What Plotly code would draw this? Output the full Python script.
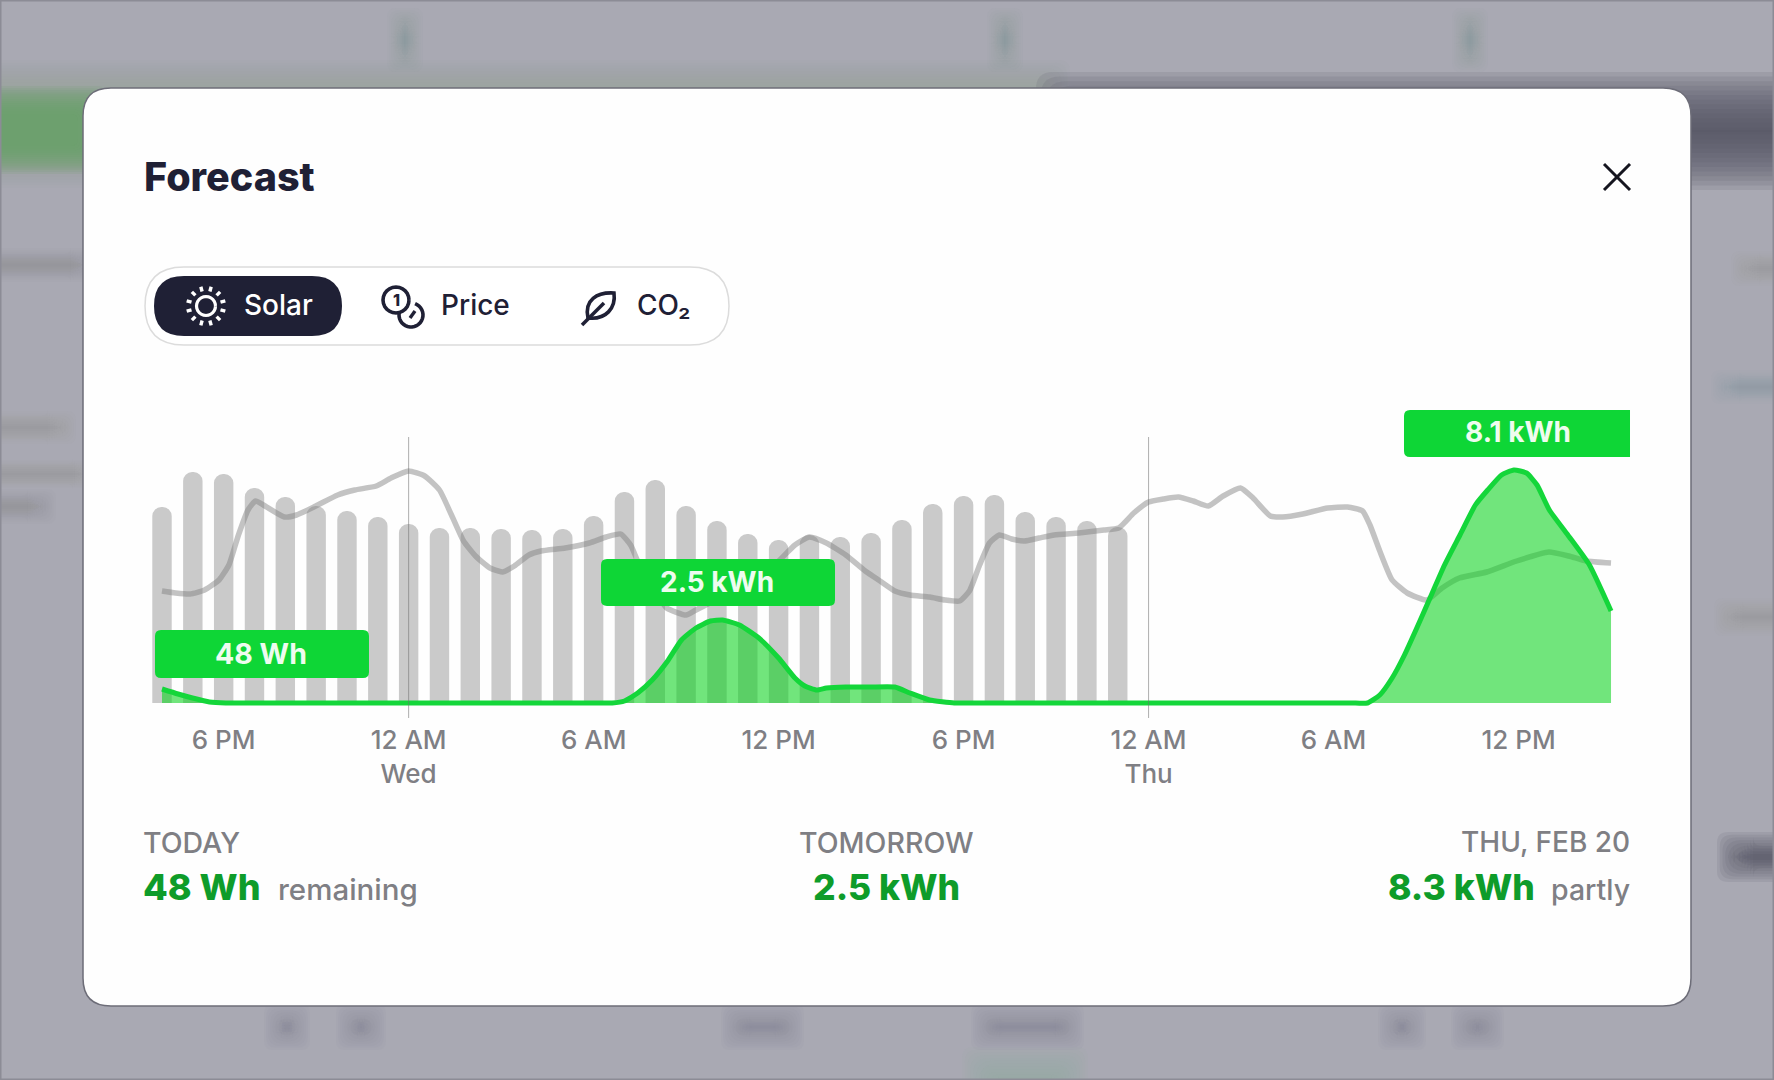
import math
import plotly.graph_objects as go

W = 1774
H = 1080

# hours counted from 4 PM Tuesday, values are relative forecast units
bar_hours = list(range(32))
bar_values = [196, 231, 229, 215, 206, 197, 192, 186, 179, 175, 175, 174, 173, 174, 187, 211,
              223, 197, 182, 169, 163, 168, 166, 170, 183, 199, 207, 208, 191, 186, 182, 176]

line_hours = [0, 0.44, 0.91, 1.38, 1.85, 2.17, 2.48, 2.79, 3.03, 3.34, 3.97, 4.36, 4.99, 5.7, 6.25,
              6.95, 7.43, 8, 8.52, 9, 9.39, 9.78, 10.17, 10.64, 11.04, 11.43, 11.9, 12.29, 13.08,
              13.86, 14.41, 14.88, 15.2, 15.43, 15.98, 16.37, 17, 17.32, 18.5, 19.5, 20, 20.53, 21,
              21.55, 22.18, 22.81, 23.29, 23.77, 24.26, 24.9, 25.39, 25.87, 26.19, 26.52, 26.84,
              27.16, 27.56, 27.97, 28.45, 28.94, 29.74, 30.55, 31.03, 31.52, 32, 32.48, 32.97,
              33.45, 33.94, 34.42, 34.98, 35.39, 35.95, 36.35, 37, 37.81, 38.45, 38.94, 39.18,
              39.5, 39.9, 40.39, 41.03, 41.52, 42.08, 42.97, 43.94, 44.98, 45.63, 46.19, 47]
line_values = [112, 110, 109, 113, 123, 138, 168, 193, 202, 197, 186, 188, 197, 208, 213,
               217, 225, 232, 227, 213, 188, 162, 147, 135, 131, 137, 148, 152, 155,
               160, 166, 169, 158, 142, 112, 95, 88, 93, 112, 130, 142, 158, 166,
               160, 148, 132, 122, 112, 108, 106, 103, 102, 112, 138, 160,
               168, 164, 162, 165, 168, 170, 173, 175, 190, 201, 204, 206,
               202, 197, 207, 215, 205, 187, 186, 189, 195, 196, 192, 178,
               152, 123, 110, 103, 115, 125, 131, 142, 151, 147, 142, 140]

solar_hours = [0, 0.52, 0.99, 1.54, 2.07, 2.6, 3.2, 8, 13.6, 14.1, 14.6, 15, 15.43, 15.9, 16.4, 16.85,
               17.32, 17.79, 18.18, 18.73, 19.36, 20, 20.53, 20.85, 21.24, 21.55, 22.18, 22.97, 23.77,
               24.26, 24.9, 25.7, 26.2, 26.8, 32, 38.1, 38.6, 39.1, 39.5, 39.9, 40.3, 40.7, 41.1, 41.6,
               42.1, 42.6, 43, 43.45, 43.85, 44.26, 44.6, 45, 45.6, 46.3, 47]
solar_values = [14, 9, 5, 1, 0, 0, 0, 0, 0, 0, 0, 2, 10, 23, 42, 63,
                75, 82, 83, 78, 65, 45, 25, 17, 13, 15, 16, 16, 16,
                10, 3, 0, 0, 0, 0, 0, 0, 0, 8, 25, 48, 75, 103, 138,
                168, 198, 213, 228, 233, 230, 218, 193, 168, 138, 92]

tick_hours = [2, 8, 14, 20, 26, 32, 38, 44]
tick_labels = ["6 PM", "12 AM<br>Wed", "6 AM", "12 PM", "6 PM", "12 AM<br>Thu", "6 AM", "12 PM"]
midnight_hours = [8, 32]

NAVY = "#1f2035"
GREY = "#7f7f84"
GREEN = "#0ed636"
DARK_GREEN = "#0e9c2a"
FONT = "Inter"


def px(x, y):
    return "%.5f %.5f" % (x / W, 1 - y / H)


def rrect(x0, y0, x1, y1, r, right=True):
    # rounded box, in page pixels
    rr = r if right else 0
    return ("M " + px(x0 + r, y0) + " L " + px(x1 - rr, y0) + " Q " + px(x1, y0) + " " + px(x1, y0 + rr)
            + " L " + px(x1, y1 - rr) + " Q " + px(x1, y1) + " " + px(x1 - rr, y1)
            + " L " + px(x0 + r, y1) + " Q " + px(x0, y1) + " " + px(x0, y1 - r)
            + " L " + px(x0, y0 + r) + " Q " + px(x0, y0) + " " + px(x0 + r, y0) + " Z")


def arc(cx, cy, r, a0, a1, n=24):
    pts = []
    for i in range(n + 1):
        a = math.radians(a0 + (a1 - a0) * i / n)
        pts.append(px(cx + r * math.cos(a), cy + r * math.sin(a)))
    return "M " + " L ".join(pts)


def seg(x0, y0, x1, y1):
    return "M " + px(x0, y0) + " L " + px(x1, y1)


shapes = []


def add_path(path, fill=None, line=None, width=0, layer="below"):
    shapes.append(dict(type="path", xref="paper", yref="paper", path=path, layer=layer,
                       fillcolor=fill or "rgba(0,0,0,0)",
                       line=dict(color=line or "rgba(0,0,0,0)", width=width)))


def blob(x0, y0, x1, y1, rgb, alpha, spread=18, steps=14):
    # stacked boxes stand in for the blurred page behind the dialog
    a = 1 - (1 - alpha) ** (1 / steps)
    for i in range(steps):
        d = spread * (1 - 2 * i / (steps - 1))
        add_path(rrect(x0 - d, y0 - d, x1 + d, y1 + d, spread + 2 - d / 2 if d > 0 else spread / 2),
                 fill="rgba(%d,%d,%d,%.4f)" % (rgb[0], rgb[1], rgb[2], a))


BLUR = (125, 128, 138)

# blurred background
blob(-60, 78, 1052, 170, (140, 170, 145), 0.55, spread=18)
blob(-60, 100, 92, 160, (100, 160, 105), 0.85, spread=14)
blob(1066, 102, 1840, 160, (85, 85, 100), 0.88, spread=30)
for cx in [405, 1005, 1470]:
    blob(cx - 4, 22, cx + 4, 58, BLUR, 0.4, spread=14)
for x0, x1 in [(278, 296), (350, 372), (735, 790), (985, 1070), (1392, 1412), (1465, 1490)]:
    blob(x0, 1018, x1, 1036, BLUR, 0.55, spread=14)
blob(980, 1065, 1070, 1100, (150, 178, 155), 0.6, spread=18)
blob(-30, 262, 85, 268, BLUR, 0.35, spread=14)
blob(-30, 425, 62, 430, BLUR, 0.3, spread=14)
blob(-30, 472, 85, 476, BLUR, 0.3, spread=12)
blob(-30, 503, 42, 510, BLUR, 0.35, spread=14)
blob(1745, 265, 1820, 272, BLUR, 0.3, spread=14)
blob(1725, 384, 1820, 390, BLUR, 0.25, spread=14)
blob(1728, 612, 1820, 622, BLUR, 0.3, spread=14)
blob(1735, 850, 1820, 864, (85, 85, 100), 0.85, spread=18)
add_path(rrect(0, 0, W, H, 1), line="#8c8c96", width=3)

# dialog and toggle
add_path(rrect(83, 88, 1691, 1006, 28), fill="#fefefe", line="#6d6d78", width=1.5)
add_path(rrect(145, 267, 729, 345, 39), fill="#ffffff", line="#dcdcdc", width=1.5)
add_path(rrect(154, 276, 342, 336, 30), fill=NAVY)

# sun icon
add_path(arc(206, 306, 9.5, 0, 360), line="#ffffff", width=3.2)
for i in range(12):
    a = math.radians(i * 30 + 15)
    add_path(seg(206 + 15 * math.cos(a), 306 + 15 * math.sin(a),
                 206 + 20 * math.cos(a), 306 + 20 * math.sin(a)), line="#ffffff", width=3.4)

# coins icon
add_path(arc(396, 300, 13, 0, 360), line=NAVY, width=3.6)
add_path(arc(411, 315, 12, -70, 195), line=NAVY, width=3.6)
add_path(seg(415, 311, 410, 318), line=NAVY, width=3.4)

# leaf icon
add_path("M " + px(614, 293) + " C " + px(597, 292) + " " + px(584, 300) + " " + px(588, 318)
         + " C " + px(606, 320) + " " + px(616, 308) + " " + px(614, 293) + " Z", line=NAVY, width=3.6)
add_path(seg(582, 325, 604, 303), line=NAVY, width=3.6)

# close cross
add_path(seg(1604, 164, 1630, 190), line="#15151f", width=3)
add_path(seg(1630, 164, 1604, 190), line="#15151f", width=3)

# midnight markers
for h in midnight_hours:
    shapes.append(dict(type="line", xref="x", yref="paper", x0=h, x1=h, y0=1 - 718 / H, y1=1 - 437 / H,
                       layer="above", line=dict(color="rgba(110,110,110,0.55)", width=1)))

# peak labels
add_path(rrect(155, 630, 369, 678, 6), fill=GREEN, layer="above")
add_path(rrect(601, 559, 835, 606, 6), fill=GREEN, layer="above")
add_path(rrect(1404, 410, 1630, 457, 6, right=False), fill=GREEN, layer="above")

annotations = []


def text(x, y, s, size, color, anchor="left", weight=500):
    annotations.append(dict(xref="paper", yref="paper", x=x / W, y=1 - y / H, text=s, showarrow=False,
                            xanchor=anchor, yanchor="middle", align=anchor,
                            font=dict(family=FONT, size=size, color=color, weight=weight)))


text(142, 177, "Forecast", 39.5, NAVY, weight=800)
text(242, 305, "Solar", 28, "#ffffff")
text(439, 305, "Price", 28, NAVY)
text(635, 305, "CO₂", 28, NAVY)
text(396, 300, "1", 16, NAVY, "center", weight=800)

text(261, 653, "48 Wh", 28.5, "#eefcef", "center", weight=700)
text(717, 582, "2.5 kWh", 28, "#eefcef", "center", weight=700)
text(1518, 432, "8.1 kWh", 28, "#eefcef", "center", weight=700)

text(141, 842, "TODAY", 28.5, GREY)
text(141, 887, "48 Wh", 36, DARK_GREEN, weight=800)
text(276, 889, "remaining", 29.5, GREY)
text(886, 842, "TOMORROW", 28.5, GREY, "center")
text(886, 887, "2.5 kWh", 35.5, DARK_GREEN, "center", weight=800)
text(1632, 842, "THU, FEB 20", 28, GREY, "right")
text(1537, 887, "8.3 kWh", 35.5, DARK_GREEN, "right", weight=800)
text(1632, 889, "partly", 28.5, GREY, "right")

fig = go.Figure()
fig.add_trace(go.Bar(x=bar_hours, y=bar_values, width=0.63, name="Forecast",
                     marker=dict(color="#cacaca", line=dict(width=0), cornerradius="50%")))
fig.add_trace(go.Scatter(x=line_hours, y=line_values, mode="lines", name="Price",
                         line=dict(color="rgba(125,125,125,0.45)", width=5.5, shape="spline", smoothing=0.5)))
fig.add_trace(go.Scatter(x=solar_hours, y=solar_values, mode="lines", name="Solar", fill="tozeroy",
                         fillcolor="rgba(10,210,30,0.58)",
                         line=dict(color="#14d63a", width=5, shape="spline", smoothing=0.5)))

fig.update_layout(
    width=W, height=H, autosize=False, margin=dict(l=0, r=0, t=0, b=0),
    paper_bgcolor="#a9a9b3", plot_bgcolor="rgba(0,0,0,0)",
    showlegend=False, hovermode=False, shapes=shapes, annotations=annotations,
    xaxis=dict(domain=[130 / W, 1640 / W], range=[-1.038, 47.94], tickmode="array",
               tickvals=tick_hours, ticktext=tick_labels, showgrid=False, zeroline=False,
               showline=False, ticks="", tickangle=0, ticklabelstandoff=2,
               tickfont=dict(family=FONT, size=26, color=GREY, weight=500)),
    yaxis=dict(domain=[1 - 720 / H, 1 - 400 / H], range=[-17, 303], visible=False),
)

fig.write_html("out.html", config=dict(displayModeBar=False),
               post_script="document.body.style.margin='0';document.body.style.overflow='hidden';")
